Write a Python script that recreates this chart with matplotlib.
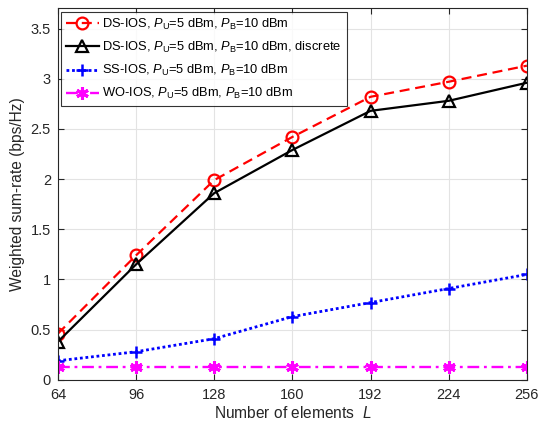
import matplotlib
matplotlib.use("Agg")
import matplotlib.pyplot as plt

plt.rcParams['font.family'] = ['Liberation Sans', 'DejaVu Sans']
plt.rcParams['mathtext.fontset'] = 'custom'
plt.rcParams['mathtext.rm'] = 'Liberation Sans'
plt.rcParams['mathtext.it'] = 'Liberation Sans:italic'

# --- data ---
L = [64, 96, 128, 160, 192, 224, 256]
ds_ios = [0.46, 1.24, 1.99, 2.42, 2.82, 2.97, 3.13]
ds_ios_discrete = [0.38, 1.15, 1.86, 2.29, 2.68, 2.78, 2.96]
ss_ios = [0.19, 0.28, 0.41, 0.63, 0.77, 0.91, 1.05]
wo_ios = [0.13, 0.13, 0.13, 0.13, 0.13, 0.13, 0.13]

suffix = r', $\mathit{P}_{\mathrm{U}}$=5 dBm, $\mathit{P}_{\mathrm{B}}$=10 dBm'
labels = ['DS-IOS' + suffix, 'DS-IOS' + suffix + ', discrete',
          'SS-IOS' + suffix, 'WO-IOS' + suffix]

fig = plt.figure(figsize=(5.46, 4.23), dpi=100)
ax = fig.add_axes([0.106, 0.102, 0.859, 0.878])

ax.plot(L, ds_ios, color='red', ls=(0, (4.5, 2.6)), lw=1.6, marker='o', ms=8.5,
        mfc='none', mew=1.6, label=labels[0])
ax.plot(L, ds_ios_discrete, color='black', ls='-', lw=1.6, marker='^', ms=9,
        mfc='none', mew=1.6, label=labels[1])
ax.plot(L, ss_ios, color='blue', ls=(0, (1, 1)), lw=2.0, marker='+', ms=9,
        mew=1.8, label=labels[2])
ax.plot(L, wo_ios, color='magenta', ls=(0, (5, 2, 1.2, 2)), lw=1.7, marker=(6, 2, 0), ms=9,
        mew=2.2, label=labels[3])

ax.set_xlim(64, 256)
ax.set_ylim(0, 3.7)
ax.set_xticks(L)
ax.set_yticks([0, 0.5, 1, 1.5, 2, 2.5, 3, 3.5])
ax.set_yticklabels(['0', '0.5', '1', '1.5', '2', '2.5', '3', '3.5'])
ax.grid(True, color='#e3e3e3', lw=0.8)
ax.set_axisbelow(True)
ax.tick_params(direction='in', top=True, right=True, labelsize=10.5, length=4,
               color='#262626', labelcolor='#262626')
ax.tick_params(axis='x', pad=6)
ax.tick_params(axis='y', pad=5)
for s in ax.spines.values():
    s.set_color('#262626')
    s.set_linewidth(0.8)

ax.set_xlabel(r'Number of elements  $\mathit{L}$', fontsize=11.2, color='#262626',
              labelpad=2)
ax.set_ylabel('Weighted sum-rate (bps/Hz)', fontsize=11.2, color='#262626')

leg = ax.legend(loc='upper left', fontsize=9.3, frameon=True, fancybox=False,
                edgecolor='black', borderaxespad=0.25, handlelength=2.5,
                labelspacing=0.62, borderpad=0.4, handletextpad=0.3)
leg.get_frame().set_linewidth(0.8)

fig.savefig('out.png', dpi=100)
